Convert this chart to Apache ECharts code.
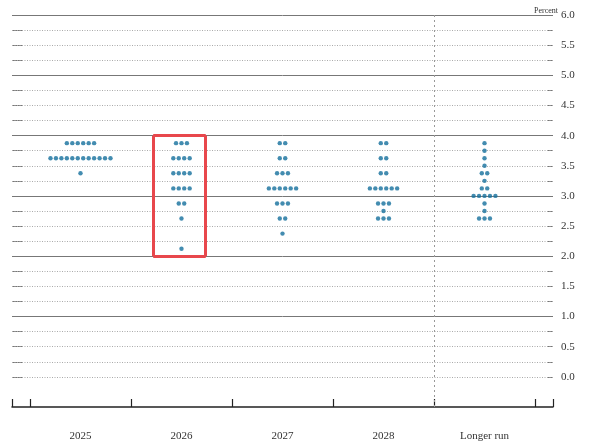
<!DOCTYPE html>
<html lang="en">
<head>
  <meta charset="UTF-8">
  <title>Dot plot</title>
  <script src="https://cdn.jsdelivr.net/npm/echarts@6/dist/echarts.min.js"></script>
  <style>body{margin:0} #chart{width:601px;height:448px}</style>
</head>
<body>
  <div id="chart"></div>
  <script>
    var categories = ['2025', '2026', '2027', '2028', 'Longer run'];
    // each entry: [rate, number of participants]
    var dots2025 = [[3.875, 6], [3.625, 12], [3.375, 1]];
    var dots2026 = [[3.875, 3], [3.625, 4], [3.375, 4], [3.125, 4], [2.875, 2], [2.625, 1], [2.125, 1]];
    var dots2027 = [[3.875, 2], [3.625, 2], [3.375, 3], [3.125, 6], [2.875, 3], [2.625, 2], [2.375, 1]];
    var dots2028 = [[3.875, 2], [3.625, 2], [3.375, 2], [3.125, 6], [2.875, 3], [2.75, 1], [2.625, 3]];
    var dotsLonger = [[3.875, 1], [3.75, 1], [3.625, 1], [3.5, 1], [3.375, 2], [3.25, 1], [3.125, 2], [3.0, 5], [2.875, 1], [2.75, 1], [2.625, 3]];
    var yTicks = [0, 0.25, 0.5, 0.75, 1, 1.25, 1.5, 1.75, 2, 2.25, 2.5, 2.75, 3, 3.25, 3.5, 3.75, 4, 4.25, 4.5, 4.75, 5, 5.25, 5.5, 5.75, 6];
    var yLabels = [0, 0.5, 1, 1.5, 2, 2.5, 3, 3.5, 4, 4.5, 5, 5.5, 6];

    var allDots = [dots2025, dots2026, dots2027, dots2028, dotsLonger];
    var step = 0.054;
    var points = [];
    allDots.forEach(function (rows, i) {
      rows.forEach(function (r) {
        for (var k = 0; k < r[1]; k++) {
          points.push([i + (k - (r[1] - 1) / 2) * step, r[0]]);
        }
      });
    });

    var gridLines = yTicks.map(function (v) {
      var solid = v >= 1 && v % 1 === 0;
      return {
        yAxis: v,
        lineStyle: { type: solid ? 'solid' : [1, 1.5], color: solid ? '#777' : '#aaa', width: 1 }
      };
    });
    gridLines.push({ xAxis: 3.5, lineStyle: { type: [2, 3], color: '#999', width: 1 } });

    // highlight box around 2026
    var bx0 = 0.72, bx1 = 1.24, by0 = 2.0, by1 = 4.0;

    var serif = 'Liberation Serif';
    var chart = echarts.init(document.getElementById('chart'));
    chart.setOption({
      animation: false,
      grid: { left: 12, right: 48, top: 15, bottom: 41 },
      title: {
        text: 'Percent', right: 38, top: 2,
        textStyle: { fontSize: 8, fontWeight: 'normal', fontFamily: serif, color: '#333' }
      },
      xAxis: {
        type: 'value', min: -0.678, max: 4.678,
        splitLine: { show: false },
        axisLine: { onZero: false, lineStyle: { color: '#222', width: 1.5 } },
        axisTick: {
          inside: true, length: 8, lineStyle: { color: '#222', width: 1.2 },
          customValues: [-0.678, -0.5, 0.5, 1.5, 2.5, 3.5, 4.5, 4.678]
        },
        axisLabel: {
          customValues: [0, 1, 2, 3, 4], margin: 24,
          fontFamily: serif, fontSize: 11, color: '#333',
          formatter: function (v) { return categories[Math.round(v)]; }
        }
      },
      yAxis: [{
        type: 'value', min: -0.5, max: 6, position: 'right',
        splitLine: { show: false },
        axisLine: { show: false, onZero: false },
        axisTick: { inside: true, length: 6, lineStyle: { color: '#777' }, customValues: yTicks },
        axisLabel: {
          customValues: yLabels, margin: 8, fontFamily: serif, fontSize: 11, color: '#333',
          formatter: function (v) { return v.toFixed(1); }
        }
      }, {
        type: 'value', min: -0.5, max: 6, position: 'left',
        splitLine: { show: false },
        axisLine: { show: false, onZero: false },
        axisTick: { inside: true, length: 10, lineStyle: { color: '#777' }, customValues: yTicks },
        axisLabel: { show: false }
      }],
      series: [{
        type: 'scatter',
        data: points,
        symbolSize: 4.4,
        itemStyle: { color: '#146f9c' },
        z: 5,
        markLine: {
          silent: true, symbol: 'none', label: { show: false },
          data: gridLines
        }
      }, {
        type: 'line',
        data: [],
        markLine: {
          silent: true, symbol: 'none', label: { show: false },
          data: [[{ coord: [bx0, by0] }, { coord: [bx1, by0] }],
                 [{ coord: [bx1, by0] }, { coord: [bx1, by1] }],
                 [{ coord: [bx1, by1] }, { coord: [bx0, by1] }],
                 [{ coord: [bx0, by1] }, { coord: [bx0, by0] }]],
          lineStyle: { color: '#e8474c', width: 3, type: 'solid' }
        }
      }]
    });
  </script>
</body>
</html>
